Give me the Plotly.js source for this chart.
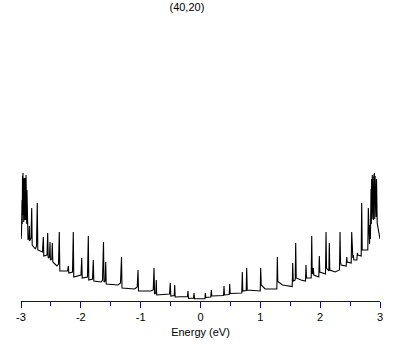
<!DOCTYPE html>
<html>
<head>
<meta charset="utf-8">
<script src="https://cdn.plot.ly/plotly-3.0.1.min.js"></script>
<style>html,body{margin:0;padding:0;background:#fff;}#chart{width:409px;height:345px;}</style>
</head>
<body>
<div id="chart"></div>
<script>
// Density of states of the (40,20) nanotube
const chartTitle = "(40,20)";
const xTitle = "Energy (eV)";
const energy = [
 -3.000,-2.992,-2.983,-2.979,-2.975,-2.971,-2.967,-2.962,-2.958,-2.954,-2.950,-2.946,-2.942,-2.937,-2.933,-2.929,-2.925,-2.920,-2.916,-2.912,-2.908,-2.904,-2.900,-2.895,
 -2.883,-2.866,-2.861,-2.856,-2.833,-2.821,-2.813,-2.760,-2.741,-2.728,-2.719,-2.641,-2.627,-2.619,-2.565,-2.554,-2.545,-2.524,-2.515,-2.509,-2.485,-2.477,-2.468,
 -2.400,-2.373,-2.360,-2.351,-2.223,-2.209,-2.201,-2.139,-2.126,-2.118,-1.997,-1.985,-1.977,-1.889,-1.875,-1.867,-1.805,-1.792,-1.783,
 -1.660,-1.638,-1.621,-1.613,-1.593,-1.584,-1.576,-1.380,-1.337,-1.320,-1.312,-1.100,-1.058,-1.044,-1.036,
 -0.830,-0.790,-0.777,-0.768,-0.747,-0.739,-0.732,-0.518,-0.505,-0.496,-0.439,-0.431,-0.423,-0.217,-0.209,-0.200,-0.117,-0.108,-0.100,
 0.075,0.080,0.089,0.172,0.181,0.189,0.385,0.393,0.401,0.480,0.488,0.496,0.690,0.699,0.707,0.764,0.772,0.781,
 0.998,1.006,1.015,1.080,1.276,1.284,1.292,1.370,1.533,1.541,1.550,1.583,1.591,1.600,1.680,1.755,1.763,1.772,
 1.850,1.859,1.867,1.877,1.885,1.894,1.977,1.986,1.994,2.089,2.098,2.106,2.145,2.153,2.161,2.250,2.323,2.332,2.340,2.350,
 2.435,2.444,2.452,2.519,2.527,2.536,2.546,2.554,2.563,2.613,2.621,2.629,2.686,2.694,2.703,2.780,2.796,2.805,2.813,2.825,2.833,2.840,
 2.850,2.855,2.860,2.866,2.871,2.877,2.883,2.889,2.895,2.900,2.906,2.912,2.918,2.924,2.930,2.936,2.942,2.948,2.953,2.970,2.989,3.000
];
const dos = [
 6.0,6.4,9.9,7.5,12.3,8.4,12.6,8.2,12.5,7.7,11.9,8.7,12.1,7.9,11.5,8.4,12.1,7.9,12.4,8.2,11.0,7.5,10.9,6.1,
 5.9,6.2,7.3,5.8,6.1,9.1,5.4,5.0,5.3,9.6,4.9,4.7,6.2,4.3,4.4,6.6,4.1,4.2,5.7,3.9,4.0,5.6,3.7,
 3.3,3.5,6.7,2.8,2.8,3.3,2.6,2.7,6.7,2.2,2.4,4.1,2.1,2.2,6.3,1.9,2.0,3.9,1.8,
 1.7,1.9,5.7,1.7,1.8,3.7,1.5,1.4,1.6,4.2,1.1,1.0,1.2,2.9,0.8,
 0.8,0.9,3.1,0.5,0.6,1.9,0.4,0.5,1.6,0.3,0.35,1.4,0.2,0.25,0.8,0.05,0.1,0.6,0.03,
 0.03,0.6,0.15,0.2,0.9,0.3,0.35,1.3,0.4,0.45,1.5,0.55,0.6,2.7,0.8,0.85,3.1,0.9,
 0.8,3.1,1.4,1.0,1.0,4.2,1.75,1.4,1.25,3.6,1.8,1.9,5.6,2.1,1.9,1.8,3.4,2.1,
 2.1,6.3,2.6,2.5,3.1,2.4,2.2,4.3,2.7,2.5,6.7,3.1,2.8,5.6,2.9,2.7,2.9,6.7,3.7,3.4,
 3.3,4.2,3.7,3.6,6.7,4.3,4.1,4.4,3.9,3.9,4.6,4.4,4.3,9.6,4.9,4.9,4.9,9.1,5.7,5.5,7.4,6.0,
 11.0,7.5,12.0,8.0,12.4,8.3,11.8,7.9,12.2,8.5,12.6,8.0,12.3,8.4,11.5,8.2,12.0,8.1,7.6,7.0,6.2,6.0
];
const majorTicks = [-3,-2,-1,0,1,2,3];
const majorLabels = ["-3","-2","-1","0","1","2","3"];

const axisBlue = "#0000cc";
const fontFam = "Liberation Sans, Arial, sans-serif";

Plotly.newPlot("chart", [{
  x: energy, y: dos, type: "scatter", mode: "lines",
  line: {color: "#000000", width: 1.1}, hoverinfo: "skip"
}], {
  width: 409, height: 345,
  margin: {l: 21, r: 29, t: 20, b: 44},
  paper_bgcolor: "#ffffff", plot_bgcolor: "#ffffff",
  showlegend: false,
  title: {text: chartTitle, x: 0.457, xref: "container", xanchor: "center",
          y: 0.98, yref: "container", yanchor: "middle",
          font: {family: fontFam, size: 11, color: "#000"}},
  xaxis: {
    range: [-3, 3], showgrid: false, zeroline: false,
    showline: true, linecolor: axisBlue, linewidth: 1,
    ticks: "outside", ticklen: 6, tickwidth: 1, tickcolor: axisBlue,
    tickvals: majorTicks, ticktext: majorLabels,
    tickfont: {family: fontFam, size: 11, color: "#000"},
    minor: {dtick: 0.5, ticks: "outside", ticklen: 4, tickwidth: 1, tickcolor: axisBlue, showgrid: false},
    title: {text: xTitle, standoff: 6, font: {family: fontFam, size: 11, color: "#000"}}
  },
  yaxis: {visible: false, range: [-0.2, 27.9], fixedrange: true}
}, {staticPlot: true, displayModeBar: false});
</script>
</body>
</html>
